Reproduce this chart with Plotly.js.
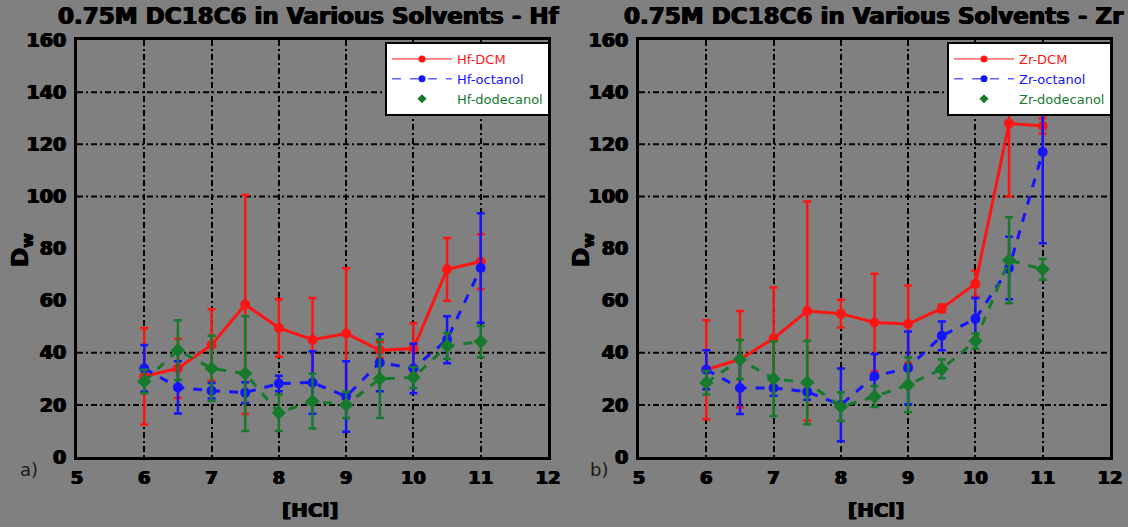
<!DOCTYPE html>
<html>
<head>
<meta charset="utf-8">
<script src="https://cdn.plot.ly/plotly-3.0.1.min.js"></script>
<style>html,body{margin:0;padding:0;background:#808080;}#chart{width:1128px;height:527px;}</style>
</head>
<body>
<div id="chart"></div>
<script>
// ---- data ----
const hclConc = [6, 6.5, 7, 7.5, 8, 8.5, 9, 9.5, 10, 10.5, 11];

const hfDCM      = [31, 34, 43, 58.5, 49.5, 45, 47.4, 41, 41.6, 72, 75];
const hfDCMErr   = [18.5, 11.4, 13.7, 42, 11, 16, 25, 3, 9.7, 12, 10.5];
const hfOct      = [34, 26.7, 25.4, 24.7, 28.2, 28.6, 23.2, 36.2, 34, 45, 72.5];
const hfOctErr   = [9, 10, 3, 4, 3, 12, 13.5, 11, 9.5, 9, 21];
const hfDod      = [29, 41, 34, 32, 17, 21.4, 20, 30, 30.5, 42.6, 44.3];
const hfDodErr   = [4.5, 11.5, 12.5, 22, 7, 10.5, 5, 15, 4, 5, 6];

const zrDCM      = [33.5, 37.5, 45.5, 56, 55, 51.6, 51, 57, 66.5, 128, 127];
const zrDCMErr   = [19, 18.5, 19.5, 42, 5.3, 18.7, 14.8, 1.5, 5, 28, 3];
const zrOct      = [33.5, 26.5, 26.5, 25, 20, 31, 34.2, 46.5, 53, 72.5, 117];
const zrOctErr   = [7.5, 10, 3, 3, 14, 8.5, 14, 5.5, 8, 12, 35];
const zrDod      = [28.5, 37.4, 30, 28.6, 19.3, 23.2, 27.7, 33.8, 44.5, 75.5, 72];
const zrDodErr   = [4.5, 7.5, 14.3, 16, 5.5, 4, 10.5, 3.6, 3, 16.5, 4];

const yTicks = [0, 20, 40, 60, 80, 100, 120, 140, 160];
const gridY  = [20, 40, 100, 120, 140];
const hfNames = ['Hf-DCM', 'Hf-octanol', 'Hf-dodecanol'];
const zrNames = ['Zr-DCM', 'Zr-octanol', 'Zr-dodecanol'];
const titles  = ['0.75M DC18C6 in Various Solvents - Hf', '0.75M DC18C6 in Various Solvents - Zr'];

// ---- styles ----
const RED = '#ff1414', BLUE = '#1414ff', GREEN = '#157a2c';
const GRID_DASH = '6px,3px,2px,3px';
const BOLD = 'DejaVu Sans, sans-serif';
const HEAVY = '0.7px 0 0 #000, -0.7px 0 0 #000';

function series(x, y, err, color, dash, symbol, xa, ya) {
  return {
    x: x, y: y, type: 'scatter', mode: 'lines+markers', showlegend: false,
    xaxis: xa, yaxis: ya,
    line: {color: color, width: 3, dash: dash},
    marker: {color: color, size: symbol === 'diamond' ? 11 : 10, symbol: symbol},
    error_y: {type: 'data', array: err, symmetric: true, visible: true, color: color, thickness: 2.5, width: 4}
  };
}
function legendItem(name, color, mode, dash, symbol, legend) {
  return {
    x: [null], y: [null], type: 'scatter', mode: mode,
    name: '<span style="color:' + color + '">' + name + '</span>',
    line: {color: color, width: 1, dash: dash},
    marker: {color: color, size: 7, symbol: symbol},
    legend: legend, xaxis: legend === 'legend' ? 'x' : 'x2', yaxis: legend === 'legend' ? 'y' : 'y2'
  };
}

const data = [
  series(hclConc, hfDCM, hfDCMErr, RED, 'solid', 'circle', 'x', 'y'),
  series(hclConc, hfOct, hfOctErr, BLUE, 'dash', 'circle', 'x', 'y'),
  series(hclConc, hfDod, hfDodErr, GREEN, 'dash', 'diamond', 'x', 'y'),
  series(hclConc, zrDCM, zrDCMErr, RED, 'solid', 'circle', 'x2', 'y2'),
  series(hclConc, zrOct, zrOctErr, BLUE, 'dash', 'circle', 'x2', 'y2'),
  series(hclConc, zrDod, zrDodErr, GREEN, 'dash', 'diamond', 'x2', 'y2'),
  legendItem(hfNames[0], RED, 'lines+markers', 'solid', 'circle', 'legend'),
  legendItem(hfNames[1], BLUE, 'lines+markers', 'dash', 'circle', 'legend'),
  legendItem(hfNames[2], GREEN, 'markers', 'solid', 'diamond', 'legend'),
  legendItem(zrNames[0], RED, 'lines+markers', 'solid', 'circle', 'legend2'),
  legendItem(zrNames[1], BLUE, 'lines+markers', 'dash', 'circle', 'legend2'),
  legendItem(zrNames[2], GREEN, 'markers', 'solid', 'diamond', 'legend2')
];

const W = 1128, H = 527;
const px = v => v / W, py = v => (H - v) / H;

function xAxis(domain) {
  return {
    domain: domain, range: [5, 12], dtick: 1, tick0: 5,
    showgrid: true, gridcolor: '#000', gridwidth: 2, griddash: GRID_DASH,
    showline: true, linecolor: '#000', linewidth: 3, mirror: true,
    zeroline: false, ticks: '', ticklabelstandoff: 2,
    tickfont: {family: BOLD, size: 18, color: '#000', weight: 'bold', shadow: HEAVY}
  };
}
function yAxis(anchor) {
  return {
    domain: [py(457), py(40)], range: [0, 160], tickvals: yTicks, anchor: anchor,
    showgrid: false, showline: true, linecolor: '#000', linewidth: 3, mirror: true,
    zeroline: false, ticks: '', ticklabelstandoff: 4,
    tickfont: {family: BOLD, size: 19, color: '#000', weight: 'bold', shadow: HEAVY}
  };
}

const shapes = [];
[['x', 'y'], ['x2', 'y2']].forEach(([xa, ya]) => {
  gridY.forEach(v => shapes.push({
    type: 'line', xref: xa + ' domain', yref: ya, x0: 0, x1: 1, y0: v, y1: v,
    line: {color: '#000', width: 2, dash: GRID_DASH}, layer: 'below'
  }));
});

function legendCfg(xRight) {
  return {
    x: xRight, xanchor: 'right', y: py(42), yanchor: 'top',
    bgcolor: '#fff', bordercolor: '#000', borderwidth: 2,
    font: {family: 'DejaVu Sans, sans-serif', size: 13, color: '#000'},
    itemwidth: 60, tracegroupgap: 0
  };
}

const titleFont = {family: BOLD, size: 23, color: '#000', weight: 'bold', shadow: HEAVY};
const hclFont = {family: BOLD, size: 20, color: '#000', weight: 'bold', shadow: HEAVY};
const dwFont = {family: BOLD, size: 23, color: '#000', weight: 'bold', shadow: HEAVY};
const panelFont = {family: BOLD, size: 18, color: '#1a1a1a'};
const annotations = [
  {text: titles[0], x: px(309), y: py(16), xref: 'paper', yref: 'paper', showarrow: false, xanchor: 'center', yanchor: 'middle', font: titleFont},
  {text: titles[1], x: px(874), y: py(16), xref: 'paper', yref: 'paper', showarrow: false, xanchor: 'center', yanchor: 'middle', font: titleFont},
  {text: '[HCl]', x: px(310), y: py(510), xref: 'paper', yref: 'paper', showarrow: false, xanchor: 'center', yanchor: 'middle', font: hclFont},
  {text: '[HCl]', x: px(876), y: py(510), xref: 'paper', yref: 'paper', showarrow: false, xanchor: 'center', yanchor: 'middle', font: hclFont},
  {text: 'D<sub>w</sub>', textangle: -90, x: px(22), y: py(250), xref: 'paper', yref: 'paper', showarrow: false, xanchor: 'center', yanchor: 'middle', font: dwFont},
  {text: 'D<sub>w</sub>', textangle: -90, x: px(583), y: py(250), xref: 'paper', yref: 'paper', showarrow: false, xanchor: 'center', yanchor: 'middle', font: dwFont},
  {text: 'a)', x: px(29), y: py(469), xref: 'paper', yref: 'paper', showarrow: false, xanchor: 'center', yanchor: 'middle', font: panelFont},
  {text: 'b)', x: px(599), y: py(469), xref: 'paper', yref: 'paper', showarrow: false, xanchor: 'center', yanchor: 'middle', font: panelFont}
];

const layout = {
  width: W, height: H,
  margin: {l: 0, r: 0, t: 0, b: 0},
  paper_bgcolor: '#808080', plot_bgcolor: '#808080',
  xaxis: Object.assign(xAxis([px(77), px(548)]), {anchor: 'y'}),
  yaxis: yAxis('x'),
  xaxis2: Object.assign(xAxis([px(639), px(1110)]), {anchor: 'y2'}),
  yaxis2: yAxis('x2'),
  legend: legendCfg(px(550)),
  legend2: legendCfg(px(1112)),
  shapes: shapes,
  annotations: annotations
};

Plotly.newPlot('chart', data, layout, {displayModeBar: false, staticPlot: true});
</script>
</body>
</html>
